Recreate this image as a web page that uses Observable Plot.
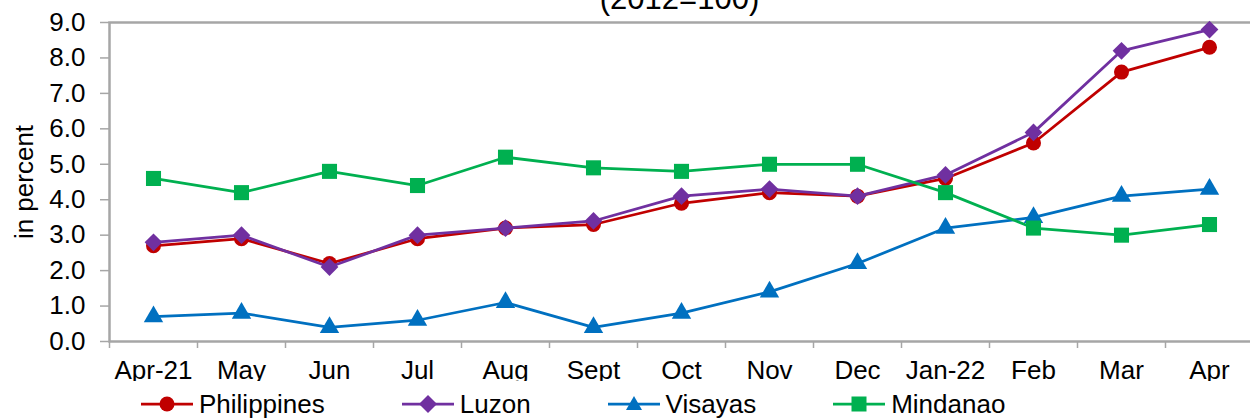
<!DOCTYPE html>
<html><head><meta charset="utf-8">
<script src="https://cdn.jsdelivr.net/npm/d3@7"></script>
<script src="https://cdn.jsdelivr.net/npm/@observablehq/plot@0.6"></script>
<style>
body{margin:0;background:#fff;font-family:"Liberation Sans",Arial,sans-serif;}
#wrap{position:relative;width:1250px;height:418px;overflow:hidden;background:#fff;}
#chart{position:absolute;left:0;top:0;width:1250px;height:381px;overflow:hidden;}
#title{position:absolute;left:109px;width:1141px;top:-17px;text-align:center;font-size:31px;line-height:31px;color:#000;}
#legend{position:absolute;left:141px;top:391px;display:flex;gap:77px;font-size:26px;line-height:26px;color:#000;white-space:nowrap;}
#legend .item{display:flex;align-items:center;}
#legend svg{display:block;margin-right:6px;}
</style></head>
<body>
<div id="wrap">
  <div id="chart"></div>
  <div id="title">(2012=100)</div>
  <div id="legend"></div>
</div>
<script>
const months = ["Apr-21","May","Jun","Jul","Aug","Sept","Oct","Nov","Dec","Jan-22","Feb","Mar","Apr"];
const philippines = [2.7, 2.9, 2.2, 2.9, 3.2, 3.3, 3.9, 4.2, 4.1, 4.6, 5.6, 7.6, 8.3];
const luzon       = [2.8, 3.0, 2.1, 3.0, 3.2, 3.4, 4.1, 4.3, 4.1, 4.7, 5.9, 8.2, 8.8];
const visayas     = [0.7, 0.8, 0.4, 0.6, 1.1, 0.4, 0.8, 1.4, 2.2, 3.2, 3.5, 4.1, 4.3];
const mindanao    = [4.6, 4.2, 4.8, 4.4, 5.2, 4.9, 4.8, 5.0, 5.0, 4.2, 3.2, 3.0, 3.3];
const yTicks = [0,1,2,3,4,5,6,7,8,9];

const seriesDefs = [
  {name:"Philippines", values:philippines, color:"#C00000", symbol:"circle", r:7.5},
  {name:"Luzon", values:luzon, color:"#7030A0", symbol:"diamond2", r:8},
  {name:"Visayas", values:visayas, color:"#0070C0", symbol:"triangle", r:7.2},
  {name:"Mindanao", values:mindanao, color:"#00B050", symbol:"square", r:8.5}
];

const idx = months.map((m,i)=>i);
const edges = months.map((m,i)=>i-0.5).concat([months.length-0.5]);

const marks = [
  Plot.frame({stroke:"#a6a6a6", strokeWidth:2.5}),
  Plot.axisY({ticks:yTicks, tickFormat:d=>d.toFixed(1), tickSize:9, tickPadding:15, stroke:"#a6a6a6", strokeWidth:1.5, fill:"#000", label:"in percent", labelAnchor:"center", labelOffset:95, labelArrow:"none"}),
  Plot.axisX({ticks:edges, tickFormat:()=> "", tickSize:7, stroke:"#a6a6a6", strokeWidth:1.5, label:null}),
  Plot.axisX({ticks:idx, tickFormat:i=>months[i], tickSize:0, tickPadding:19, fill:"#000", label:null})
];
for (const s of seriesDefs) {
  const rows = s.values.map((v,i)=>({i, value:v}));
  marks.push(Plot.line(rows, {x:"i", y:"value", stroke:s.color, strokeWidth:2.75}));
  marks.push(Plot.dot(rows, {x:"i", y:"value", symbol:s.symbol, r:s.r, fill:s.color, stroke:"none"}));
}

const chart = Plot.plot({
  width:1250, height:418,
  marginTop:22, marginBottom:77, marginLeft:109, marginRight:-3,
  style:{fontFamily:"'Liberation Sans', Arial, sans-serif", fontSize:"26px", background:"white", color:"black", overflow:"visible"},
  x:{type:"linear", domain:[-0.5, months.length-0.5]},
  y:{domain:[0,9]},
  marks
});
document.getElementById("chart").appendChild(chart);

// legend
const legend = document.getElementById("legend");
const sym = {
  circle: (c)=>`<circle cx="26" cy="13" r="7.5" fill="${c}"/>`,
  diamond2: (c)=>`<path d="M26,4 L35,13 L26,22 L17,13Z" fill="${c}"/>`,
  triangle: (c)=>`<path d="M26,5 L34,19 L18,19Z" fill="${c}"/>`,
  square: (c)=>`<rect x="18.5" y="5.5" width="15" height="15" fill="${c}"/>`
};
for (const s of seriesDefs) {
  const item = document.createElement("div");
  item.className = "item";
  item.innerHTML = `<svg width="52" height="26"><line x1="0" x2="52" y1="13" y2="13" stroke="${s.color}" stroke-width="2.75"/>${sym[s.symbol](s.color)}</svg><span>${s.name}</span>`;
  legend.appendChild(item);
}
</script>
</body></html>
